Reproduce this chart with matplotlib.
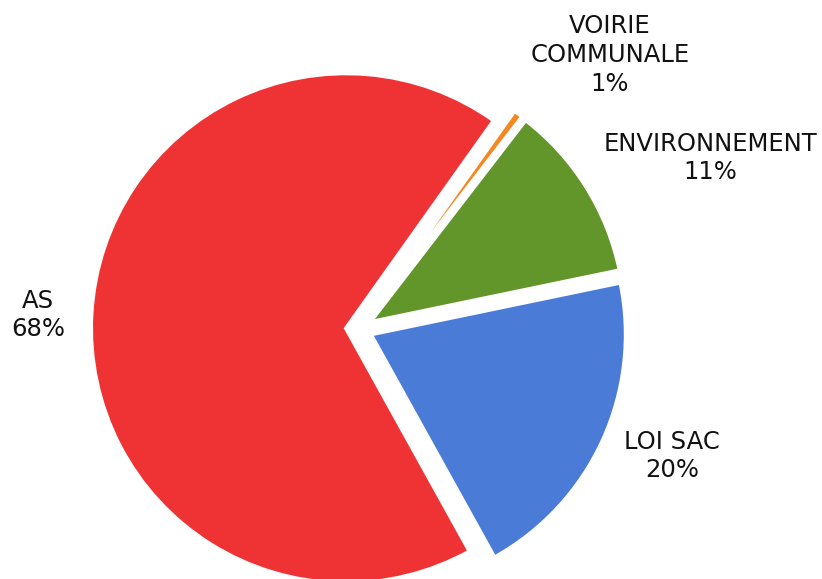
import matplotlib
matplotlib.use("Agg")
import matplotlib.pyplot as plt

# Budget share by category (percent)
categories = ["LOI SAC", "ENVIRONNEMENT", "VOIRIE\nCOMMUNALE", "AS"]
shares = [20.2, 11.3, 0.6, 67.9]
colors = ["#4A7BD6", "#62952A", "#F7861F", "#EF3334"]

# Label anchor positions in pixel coordinates (x, y from top)
label_xy = [(672, 456), (710, 158), (610, 55), (38, 315)]

W, H = 822, 579
fig = plt.figure(figsize=(W / 100, H / 100), dpi=100)
ax = fig.add_axes([0, 0, 1, 1])

center = (359, H - 329)
radius = 255
offset = 13  # slice separation, in pixels

wedges, _ = ax.pie(
    shares,
    colors=colors,
    startangle=-61,
    counterclock=True,
    center=center,
    radius=radius,
    explode=[offset] * len(shares),
    wedgeprops=dict(edgecolor="white", linewidth=2.9),
)

ax.set_xlim(0, W)
ax.set_ylim(0, H)
ax.set_aspect("equal")
ax.axis("off")

for name, val, (x, y) in zip(categories, shares, label_xy):
    ax.text(x, H - y, f"{name}\n{val:.0f}%", ha="center", va="center",
            fontsize=17.5, family="DejaVu Sans", color="#111111",
            linespacing=1.25)

fig.savefig("out.png", dpi=100)
